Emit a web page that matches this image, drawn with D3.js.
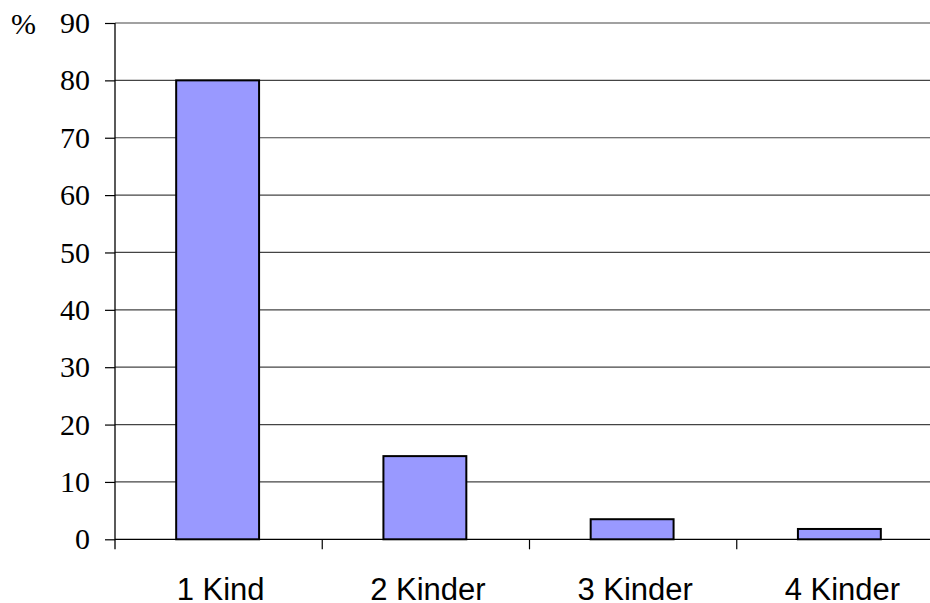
<!DOCTYPE html>
<html>
<head>
<meta charset="utf-8">
<script src="https://cdn.jsdelivr.net/npm/d3@7"></script>
<style>
  body { margin: 0; background: #fff; }
  svg { display: block; }
</style>
</head>
<body>
<div class="wrapper"></div>
<script>
var categories = ["1 Kind", "2 Kinder", "3 Kinder", "4 Kinder"];
var percents = [80, 14.5, 3.5, 1.8];
var yTicks = [0, 10, 20, 30, 40, 50, 60, 70, 80, 90];

var width = 930,
    height = 603;

// plot edges (note: "top" is reserved on window, so use other names)
var plotLeft = 115, plotRight = 944, plotTop = 23, plotBottom = 539.3;

var x = d3.scaleBand()
    .domain(categories)
    .range([plotLeft, plotRight])
    .padding(0);

var y = d3.scaleLinear()
    .domain([0, 90])
    .range([plotBottom, plotTop]);

var svg = d3.select(".wrapper").append("svg")
    .attr("width", width)
    .attr("height", height);

// gridlines
svg.append("g").selectAll("line")
    .data(yTicks.filter(function(d) { return d > 0; }))
  .enter().append("line")
    .attr("x1", plotLeft).attr("x2", plotRight)
    .attr("y1", function(d) { return y(d); })
    .attr("y2", function(d) { return y(d); })
    .attr("stroke", "#444")
    .attr("stroke-width", 1.2);

// y axis
var yAxis = svg.append("g")
    .attr("transform", "translate(" + plotLeft + ",0)")
    .call(d3.axisLeft(y).tickValues(yTicks).tickSize(10).tickPadding(15));
yAxis.select(".domain").attr("d", "M0," + plotTop + "V" + (plotBottom + 10)).attr("stroke", "#000").attr("stroke-width", 1.3);
yAxis.selectAll(".tick line").attr("stroke", "#000").attr("stroke-width", 1.2);
yAxis.selectAll("text")
    .style("font-family", "'Liberation Serif', 'Times New Roman', serif")
    .style("font-size", "30px")
    .attr("fill", "#000");

svg.append("text")
    .attr("x", 11)
    .attr("y", y(90))
    .attr("dy", "0.35em")
    .style("font-family", "'Liberation Serif', 'Times New Roman', serif")
    .style("font-size", "30px")
    .text("%");

// x axis baseline + category boundary ticks
svg.append("line")
    .attr("x1", plotLeft).attr("x2", plotRight)
    .attr("y1", y(0)).attr("y2", y(0))
    .attr("stroke", "#000").attr("stroke-width", 1.3);

svg.append("g").selectAll("line")
    .data(categories.slice(1))
  .enter().append("line")
    .attr("x1", function(d) { return x(d); })
    .attr("x2", function(d) { return x(d); })
    .attr("y1", y(0)).attr("y2", y(0) + 10)
    .attr("stroke", "#000").attr("stroke-width", 1.2);

// bars
var bw = x.bandwidth() * 0.4;
svg.append("g").selectAll("rect")
    .data(percents)
  .enter().append("rect")
    .attr("x", function(d, i) { return x(categories[i]) + x.bandwidth() * 0.3 - 1; })
    .attr("y", function(d) { return y(d); })
    .attr("width", bw)
    .attr("height", function(d) { return y(0) - y(d); })
    .attr("fill", "#9999ff")
    .attr("stroke", "#000")
    .attr("stroke-width", 2);

// category labels
svg.append("g").selectAll("text")
    .data(categories)
  .enter().append("text")
    .attr("x", function(d) { return x(d) + x.bandwidth() / 2 + 2; })
    .attr("y", 600)
    .attr("text-anchor", "middle")
    .style("font-family", "'Liberation Sans', Arial, sans-serif")
    .style("font-size", "31px")
    .text(function(d) { return d; });
</script>
</body>
</html>
